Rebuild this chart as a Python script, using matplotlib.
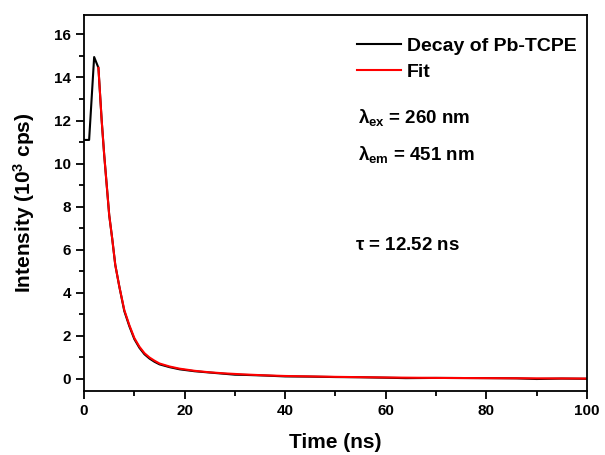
import numpy as np
import matplotlib.pyplot as plt
from matplotlib.ticker import MultipleLocator

plt.rcParams['font.family'] = ['Liberation Sans', 'DejaVu Sans']
plt.rcParams['font.weight'] = 'bold'
plt.rcParams['mathtext.fontset'] = 'custom'
plt.rcParams['mathtext.rm'] = 'Liberation Sans:bold'
plt.rcParams['mathtext.it'] = 'Liberation Sans:bold'
plt.rcParams['mathtext.bf'] = 'Liberation Sans:bold'

decay_t = [0, 1.0, 2.0, 2.85, 3.5, 4.0, 4.5, 5.0, 5.6, 6.2, 7.0, 8.0, 9.0, 10.0,
           11.0, 12.0, 13.0, 14.0, 15.0, 17.0, 19.0, 22.0, 25.0, 28.0, 30.0,
           32.0, 36.0, 40.0, 45.0, 50.0, 55.0, 60.0, 64.0, 70.0, 80.0, 86.0,
           90.0, 95.0, 100.0]
decay_i = [11.1, 11.1, 14.95, 14.45, 12.0, 10.4, 9.0, 7.6, 6.5, 5.3, 4.3, 3.15,
           2.45, 1.85, 1.45, 1.15, 0.95, 0.8, 0.68, 0.55, 0.45, 0.36, 0.30,
           0.24, 0.20, 0.19, 0.16, 0.12, 0.11, 0.09, 0.08, 0.06, 0.04, 0.05,
           0.04, 0.03, 0.0, 0.02, 0.01]

# fitted curve
fit_t = [2.85, 3.5, 4.0, 4.5, 5.0, 5.6, 6.2, 7.0, 8.0, 9.0, 10.0, 11.0, 12.0,
         13.0, 14.0, 15.0, 17.0, 19.0, 22.0, 25.0, 28.0, 32.0, 36.0, 40.0,
         45.0, 50.0, 60.0, 70.0, 80.0, 90.0, 100.0]
fit_i = [14.45, 12.0, 10.4, 9.0, 7.6, 6.5, 5.3, 4.3, 3.2, 2.5, 1.9, 1.5, 1.2,
         1.0, 0.85, 0.72, 0.58, 0.48, 0.38, 0.31, 0.26, 0.21, 0.17, 0.14,
         0.12, 0.10, 0.07, 0.05, 0.04, 0.03, 0.02]

fig = plt.figure(figsize=(6.05, 4.55), dpi=100)
ax = fig.add_axes([0.139, 0.141, 0.831, 0.826])

ax.plot(decay_t, decay_i, color='black', lw=1.5, label='Decay of Pb-TCPE')
ax.plot(fit_t, fit_i, color='red', lw=1.5, label='Fit')

ax.set_xlim(0, 100)
ax.set_ylim(-0.55, 16.9)
ax.xaxis.set_major_locator(MultipleLocator(20))
ax.xaxis.set_minor_locator(MultipleLocator(10))
ax.yaxis.set_major_locator(MultipleLocator(2))
ax.yaxis.set_minor_locator(MultipleLocator(1))
ax.tick_params(which='major', direction='out', length=6, width=1.3, labelsize=11)
ax.tick_params(which='minor', direction='out', length=3.5, width=1.3)
for s in ax.spines.values():
    s.set_linewidth(1.3)

ax.set_xlabel('Time (ns)', fontsize=15, fontweight='bold', labelpad=11)
ax.set_ylabel('Intensity (10$^3$ cps)', fontsize=15, fontweight='bold', labelpad=12)

leg = ax.legend(loc='upper left', bbox_to_anchor=(0.543, 0.94), frameon=False,
                borderpad=0, borderaxespad=0,
                fontsize=14, handlelength=2.25, handletextpad=0.3, labelspacing=0.4)

ax.text(0.545, 0.726, r'$\lambda_{ex}$ = 260 nm', transform=ax.transAxes,
        fontsize=13.5, fontweight='bold', va='center')
ax.text(0.545, 0.628, r'$\lambda_{em}$ = 451 nm', transform=ax.transAxes,
        fontsize=13.5, fontweight='bold', va='center')
ax.text(0.539, 0.388, r'$\tau$ = 12.52 ns', transform=ax.transAxes,
        fontsize=13.5, fontweight='bold', va='center')

fig.savefig('out.png', dpi=100)
